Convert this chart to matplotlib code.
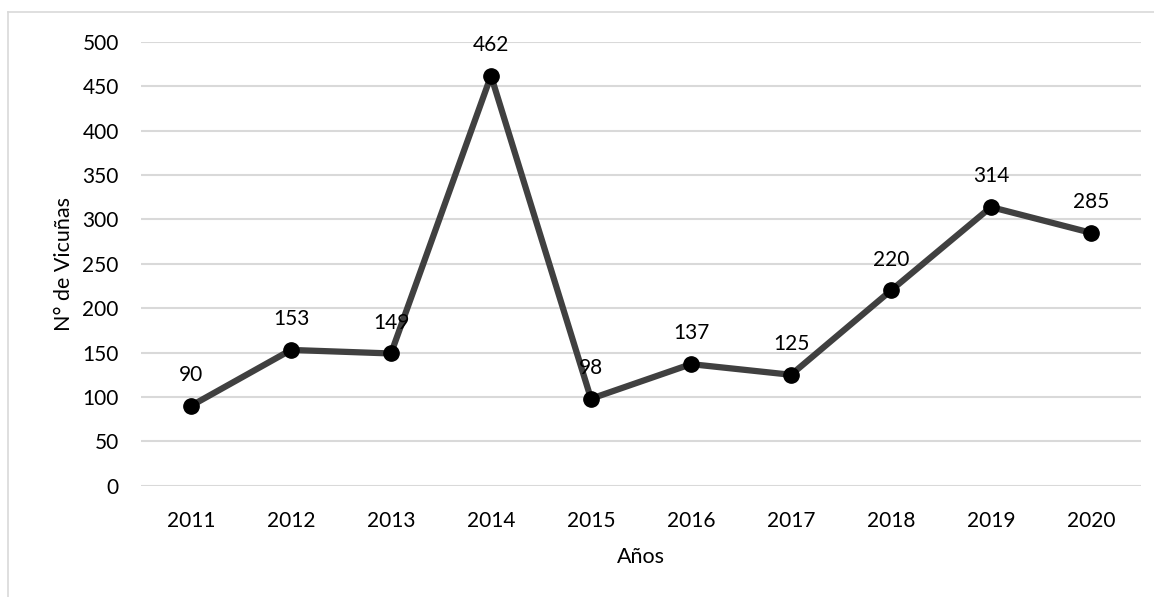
import matplotlib
matplotlib.use("Agg")
import matplotlib.pyplot as plt
from matplotlib.lines import Line2D

years = ["2011", "2012", "2013", "2014", "2015", "2016", "2017", "2018", "2019", "2020"]
values = [90, 153, 149, 462, 98, 137, 125, 220, 314, 285]
yticks = [0, 50, 100, 150, 200, 250, 300, 350, 400, 450, 500]

plt.rcParams['font.family'] = ['Lato', 'DejaVu Sans']

W, H = 1154, 597
fig = plt.figure(figsize=(W/100, H/100), dpi=100)
ax = fig.add_axes([141/W, 1 - 485.7/H, (1141-141)/W, (485.7-42)/H])

x = list(range(len(years)))
ax.plot(x, values, color='#404040', linewidth=4.5, marker='o', markersize=11,
        markerfacecolor='black', markeredgecolor='black', zorder=3, solid_capstyle='round')
for xi, v in zip(x, values):
    ax.annotate(str(v), (xi, v), xytext=(0, 15), textcoords='offset points',
                ha='center', va='bottom', fontsize=15, color='#000000', zorder=4)

ax.set_xlim(-0.5, len(years) - 0.5)
ax.set_ylim(0, 500)
ax.set_yticks(yticks)
ax.set_xticks(x)
ax.set_xticklabels(years)
ax.grid(axis='y', color='#d9d9d9', linewidth=1.5)
ax.set_axisbelow(True)
for s in ax.spines.values():
    s.set_visible(False)
ax.tick_params(length=0, labelsize=15, colors='#000000', pad=16)
ax.tick_params(axis='x', pad=18)
ax.set_xlabel("Años", fontsize=15.5, labelpad=12)
ax.set_ylabel("N° de Vicuñas", fontsize=15.5, labelpad=6)

fig.add_artist(Line2D([8/W, 1], [1 - 12/H, 1 - 12/H], transform=fig.transFigure, color='#d9d9d9', linewidth=1.2))
fig.add_artist(Line2D([8/W, 8/W], [0, 1 - 12/H], transform=fig.transFigure, color='#d9d9d9', linewidth=1.2))

fig.savefig("out.png", dpi=100)
